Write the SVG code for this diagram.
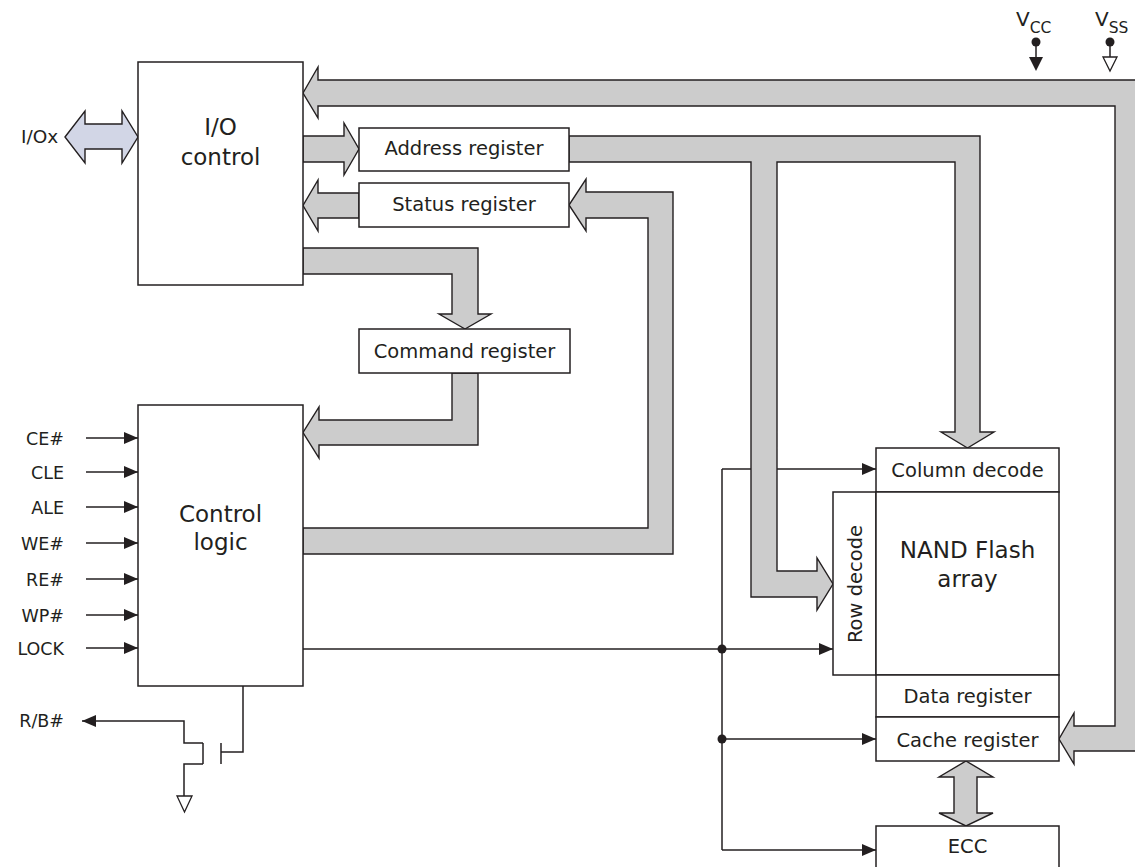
<svg xmlns="http://www.w3.org/2000/svg" width="1135" height="867" viewBox="0 0 1135 867">
<style>
.box{fill:#fff;stroke:#231f20;stroke-width:1.5}
.bus{fill:#cccccc;stroke:#231f20;stroke-width:1.4;stroke-linejoin:miter}
.io{fill:#d2d6e6;stroke:#231f20;stroke-width:1.4}
.ln{fill:none;stroke:#231f20;stroke-width:1.5}
.arr{fill:none;stroke:#231f20;stroke-width:1.5;marker-end:url(#ah)}
text{font-family:"DejaVu Sans","Liberation Sans",sans-serif;fill:#231f20}
.big{font-size:23px;text-anchor:middle}
.reg{font-size:19.5px;text-anchor:middle}
.pin{font-size:17.5px;text-anchor:end}
</style>
<defs>
<marker id="ah" viewBox="0 0 14 12" refX="14" refY="6" markerWidth="14" markerHeight="12" markerUnits="userSpaceOnUse" orient="auto">
<path d="M0,0 L14,6 L0,12 Z" fill="#231f20"/>
</marker>
</defs>

<g id="connectors">
<!-- input pins -->
<line class="arr" x1="86" y1="438" x2="138" y2="438"/>
<line class="arr" x1="86" y1="472" x2="138" y2="472"/>
<line class="arr" x1="86" y1="507" x2="138" y2="507"/>
<line class="arr" x1="86" y1="543" x2="138" y2="543"/>
<line class="arr" x1="86" y1="579" x2="138" y2="579"/>
<line class="arr" x1="86" y1="615" x2="138" y2="615"/>
<line class="arr" x1="86" y1="648" x2="138" y2="648"/>
<!-- control lines to array -->
<line class="arr" x1="303" y1="649" x2="833" y2="649"/>
<line class="ln" x1="722" y1="469" x2="722" y2="850"/>
<line class="arr" x1="722" y1="469" x2="876" y2="469"/>
<line class="arr" x1="722" y1="739" x2="876" y2="739"/>
<line class="arr" x1="722" y1="850" x2="876" y2="850"/>
<circle cx="722" cy="649" r="4.5" fill="#231f20"/>
<circle cx="722" cy="739" r="4.5" fill="#231f20"/>
<!-- R/B# transistor -->
<polyline class="ln" points="243,686 243,752 221,752"/>
<line class="ln" x1="221" y1="743" x2="221" y2="764"/>
<line class="ln" x1="203" y1="743" x2="203" y2="764"/>
<polyline class="arr" points="203,743 184,743 184,721 82,721"/>
<polyline class="ln" points="203,764 184,764 184,796"/>
<path d="M177,796 L192,796 L184.5,812 Z" fill="#fff" stroke="#231f20" stroke-width="1.3"/>
<!-- Vcc / Vss -->
<circle cx="1036" cy="42" r="4.5" fill="#231f20"/>
<line class="ln" x1="1036" y1="42" x2="1036" y2="57"/>
<path d="M1029,57 L1043,57 L1036,71 Z" fill="#231f20"/>
<circle cx="1110" cy="42" r="4.5" fill="#231f20"/>
<line class="ln" x1="1110" y1="42" x2="1110" y2="57"/>
<path d="M1103,57 L1117,57 L1110,71 Z" fill="#fff" stroke="#231f20" stroke-width="1.3"/>
<!-- buses -->
<path class="io" d="M65,137 L85,111 L85,124 L122,124 L122,111 L138,137 L122,163 L122,149 L85,149 L85,163 Z"/>
<path class="bus" d="M303,93 L318,67 L318,80 L1140,80 L1140,751 L1074,751 L1074,764 L1059,739 L1074,713 L1074,726 L1115,726 L1115,106 L318,106 L318,118 Z"/>
<path class="bus" d="M303,136 L344,136 L344,123 L359,149 L344,175 L344,162 L303,162 Z"/>
<path class="bus" d="M569,136 L980,136 L980,432 L994,432 L967.5,448 L941,432 L955,432 L955,162 L777,162 L777,571 L817,571 L817,558 L833,584 L817,610 L817,597 L751,597 L751,162 L569,162 Z"/>
<path class="bus" d="M359,193 L318,193 L318,180 L303,205.5 L318,231 L318,218 L359,218 Z"/>
<path class="bus" d="M303,554 L673,554 L673,192 L586,192 L586,179 L569,205 L586,231 L586,218 L648,218 L648,528 L303,528 Z"/>
<path class="bus" d="M303,248 L478,248 L478,314 L491,314 L465,329 L439,314 L452,314 L452,274 L303,274 Z"/>
<path class="bus" d="M452,373 L478,373 L478,445 L319,445 L319,458 L303,432.5 L319,407 L319,420 L452,420 Z"/>
<path class="bus" d="M966,761 L993,777 L977,777 L977,813 L993,813 L966,826 L939,813 L954,813 L954,777 L939,777 Z"/>
</g>

<g id="io-control">
<rect class="box" x="138" y="62" width="165" height="223"/>
<text class="big" x="220.5" y="135">I/O</text>
<text class="big" x="220.5" y="165">control</text>
</g>
<g id="control-logic">
<rect class="box" x="138" y="405" width="165" height="281"/>
<text class="big" x="220.5" y="522">Control</text>
<text class="big" x="220.5" y="550">logic</text>
</g>
<g id="address-register">
<rect class="box" x="359" y="128" width="210" height="43"/>
<text class="reg" x="464" y="155">Address register</text>
</g>
<g id="status-register">
<rect class="box" x="359" y="183" width="210" height="44"/>
<text class="reg" x="464" y="211">Status register</text>
</g>
<g id="command-register">
<rect class="box" x="359" y="329" width="211" height="44"/>
<text class="reg" x="464.5" y="358">Command register</text>
</g>
<g id="column-decode">
<rect class="box" x="876" y="448" width="183" height="44"/>
<text class="reg" x="967.5" y="477">Column decode</text>
</g>
<g id="row-decode">
<rect class="box" x="833" y="492" width="43" height="183"/>
<text class="reg" transform="translate(862,584) rotate(-90)" x="0" y="0">Row decode</text>
</g>
<g id="nand-array">
<rect class="box" x="876" y="492" width="183" height="183"/>
<text class="big" x="967.5" y="558">NAND Flash</text>
<text class="big" x="967.5" y="587">array</text>
</g>
<g id="data-register">
<rect class="box" x="876" y="675" width="183" height="42"/>
<text class="reg" x="967.5" y="703">Data register</text>
</g>
<g id="cache-register">
<rect class="box" x="876" y="717" width="183" height="44"/>
<text class="reg" x="967.5" y="747">Cache register</text>
</g>
<g id="ecc">
<rect class="box" x="876" y="826" width="183" height="60"/>
<text class="reg" x="967.5" y="853">ECC</text>
</g>

<g id="labels">
<text x="21" y="143" style="font-size:18.5px">I/Ox</text>
<text class="pin" x="64" y="445">CE#</text>
<text class="pin" x="64" y="479">CLE</text>
<text class="pin" x="64" y="514">ALE</text>
<text class="pin" x="64" y="550">WE#</text>
<text class="pin" x="64" y="586">RE#</text>
<text class="pin" x="64" y="622">WP#</text>
<text class="pin" x="64" y="655">LOCK</text>
<text class="pin" x="64" y="727">R/B#</text>
<text x="1016" y="26" style="font-size:20px">V<tspan dy="7" style="font-size:15.5px">CC</tspan></text>
<text x="1095" y="26" style="font-size:20px">V<tspan dy="7" style="font-size:15.5px">SS</tspan></text>
</g>
</svg>
